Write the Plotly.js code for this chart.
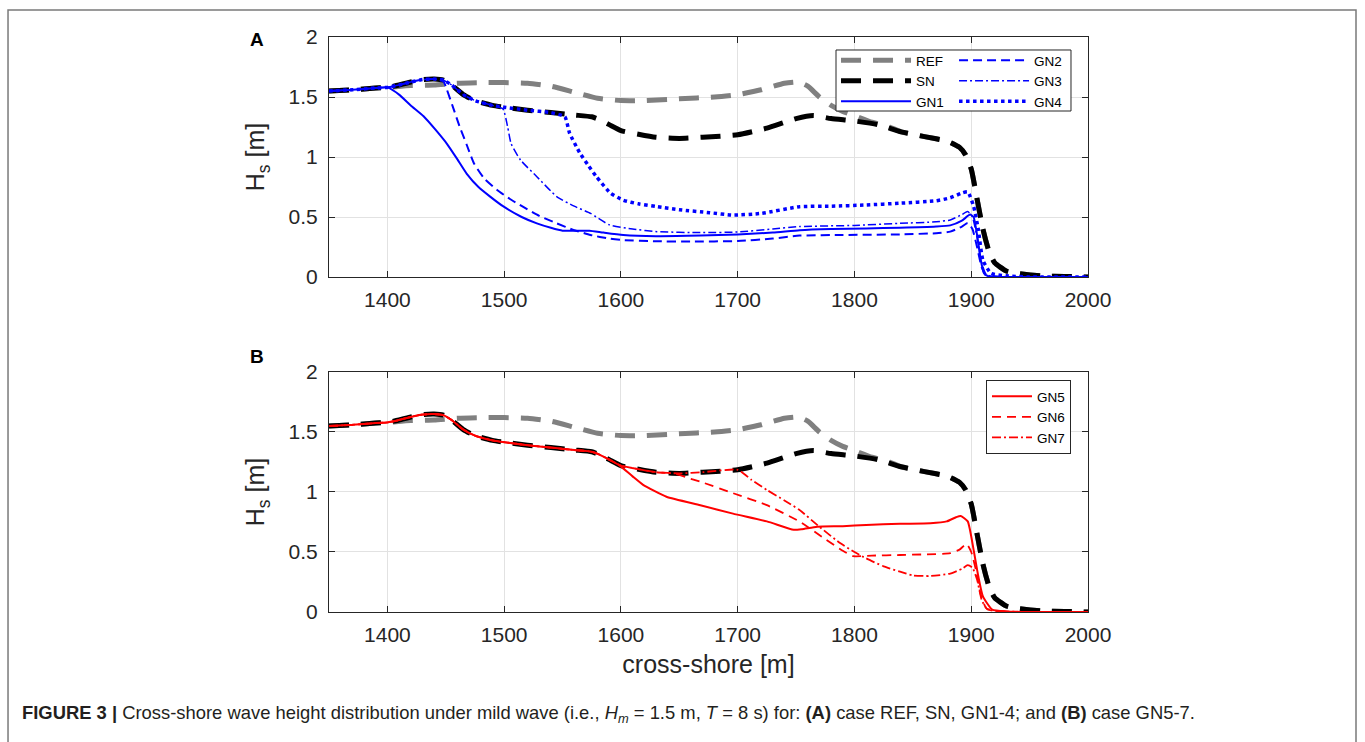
<!DOCTYPE html>
<html>
<head>
<meta charset="utf-8">
<script src="https://cdn.plot.ly/plotly-3.0.1.min.js"></script>
<style>
  html, body { margin: 0; padding: 0; background: #fff; }
  #fig { width: 1365px; height: 742px; }
</style>
</head>
<body>
<div id="fig"></div>
<script>
// Cross-shore positions [m] and significant wave height Hs [m] for each case.
const refX = [1350,1370,1390,1400,1420,1440,1460,1480,1500,1520,1540,1560,1580,1600,1620,1650,1680,1700,1720,1740,1752,1760,1770,1780,1790,1800,1815,1830,1840,1860,1880,1890,1895,1900,1905,1910,1915,1920,1930,1940,1960,1980,2000];
const refY = [1.55,1.56,1.575,1.58,1.595,1.60,1.615,1.62,1.62,1.615,1.59,1.54,1.49,1.47,1.47,1.485,1.50,1.52,1.56,1.615,1.625,1.59,1.50,1.43,1.38,1.345,1.29,1.25,1.21,1.17,1.13,1.08,1.02,0.90,0.65,0.40,0.22,0.12,0.05,0.03,0.01,0.005,0];

const snX = [1350,1370,1390,1400,1410,1420,1430,1440,1448,1455,1465,1475,1490,1500,1520,1540,1560,1575,1582,1590,1600,1615,1630,1650,1670,1700,1725,1750,1765,1780,1800,1820,1840,1860,1880,1890,1895,1900,1905,1910,1915,1920,1930,1940,1960,1980,2000];
const snY = [1.55,1.56,1.575,1.58,1.60,1.625,1.645,1.65,1.64,1.60,1.52,1.47,1.43,1.415,1.39,1.37,1.35,1.335,1.31,1.27,1.22,1.19,1.165,1.155,1.165,1.185,1.24,1.32,1.345,1.32,1.30,1.27,1.21,1.17,1.13,1.08,1.02,0.90,0.65,0.40,0.22,0.12,0.05,0.03,0.01,0.005,0];

const gn1X = [1350,1370,1390,1400,1410,1420,1431,1441,1451,1460,1468,1478,1488,1499,1515,1528,1540,1550,1565,1573,1585,1602,1630,1668,1700,1730,1753,1780,1810,1839,1870,1882,1892,1899,1902,1905,1908,1911,1915,1950,2000];
const gn1Y = [1.55,1.56,1.575,1.58,1.52,1.43,1.34,1.23,1.11,0.98,0.86,0.75,0.67,0.59,0.50,0.447,0.41,0.386,0.385,0.386,0.37,0.35,0.34,0.345,0.355,0.37,0.39,0.40,0.405,0.41,0.42,0.43,0.47,0.52,0.50,0.35,0.15,0.03,0.005,0,0];

const gn2X = [1350,1370,1390,1400,1410,1420,1430,1440,1448,1451,1456,1462,1468,1474,1483,1494,1505,1516,1530,1545,1560,1574,1590,1602,1630,1660,1700,1730,1753,1790,1839,1870,1882,1892,1897,1901,1905,1909,1913,1950,2000];
const gn2Y = [1.55,1.56,1.575,1.58,1.60,1.625,1.645,1.65,1.63,1.56,1.42,1.25,1.10,0.95,0.82,0.725,0.65,0.586,0.51,0.447,0.39,0.35,0.32,0.308,0.298,0.295,0.30,0.32,0.345,0.35,0.355,0.365,0.378,0.42,0.45,0.40,0.25,0.08,0.01,0,0];

const gn3X = [1350,1370,1390,1400,1410,1420,1430,1440,1448,1455,1465,1475,1490,1499,1503,1506,1514,1528,1545,1560,1574,1590,1610,1631,1668,1700,1730,1753,1800,1839,1870,1882,1892,1897,1901,1905,1909,1913,1950,2000];
const gn3Y = [1.55,1.56,1.575,1.58,1.60,1.625,1.645,1.65,1.64,1.60,1.52,1.47,1.43,1.40,1.25,1.11,0.975,0.836,0.67,0.59,0.53,0.435,0.40,0.378,0.37,0.375,0.40,0.42,0.43,0.447,0.46,0.475,0.52,0.545,0.50,0.33,0.12,0.02,0,0];

const gn4X = [1350,1370,1390,1400,1410,1420,1430,1440,1448,1455,1465,1475,1490,1500,1520,1540,1552,1556,1565,1572,1579,1591,1602,1615,1631,1650,1676,1696,1720,1753,1780,1810,1839,1870,1882,1892,1897,1902,1906,1910,1917,1930,1950,2000];
const gn4Y = [1.55,1.56,1.575,1.58,1.60,1.625,1.645,1.65,1.64,1.60,1.52,1.47,1.43,1.415,1.39,1.37,1.335,1.20,1.03,0.93,0.836,0.70,0.64,0.61,0.586,0.56,0.536,0.516,0.53,0.586,0.59,0.60,0.615,0.635,0.66,0.70,0.71,0.59,0.40,0.14,0.03,0.01,0,0];

const gn5X = [1350,1370,1390,1400,1410,1420,1430,1440,1448,1455,1465,1475,1490,1500,1520,1540,1560,1575,1582,1590,1599,1610,1619,1639,1668,1696,1725,1748,1755,1768,1790,1810,1839,1865,1879,1887,1891,1897,1902,1906,1910,1918,1930,1950,2000];
const gn5Y = [1.55,1.56,1.575,1.58,1.60,1.625,1.645,1.65,1.64,1.60,1.52,1.47,1.43,1.415,1.39,1.37,1.35,1.335,1.31,1.27,1.22,1.13,1.06,0.96,0.89,0.82,0.755,0.685,0.69,0.71,0.715,0.725,0.735,0.74,0.755,0.79,0.80,0.755,0.52,0.30,0.13,0.02,0.005,0,0];

const gn6X = [1350,1370,1390,1400,1410,1420,1430,1440,1448,1455,1465,1475,1490,1500,1520,1540,1560,1575,1582,1590,1600,1615,1630,1645,1660,1668,1696,1725,1753,1776,1790,1799,1815,1839,1860,1882,1890,1896,1900,1904,1908,1913,1925,1950,2000];
const gn6Y = [1.55,1.56,1.575,1.58,1.60,1.625,1.645,1.65,1.64,1.60,1.52,1.47,1.43,1.415,1.39,1.37,1.35,1.335,1.31,1.27,1.22,1.19,1.165,1.155,1.11,1.086,0.99,0.89,0.753,0.60,0.51,0.465,0.47,0.475,0.48,0.49,0.52,0.567,0.50,0.35,0.15,0.03,0.005,0,0];

const gn7X = [1350,1370,1390,1400,1410,1420,1430,1440,1448,1455,1465,1475,1490,1500,1520,1540,1560,1575,1582,1590,1600,1615,1630,1650,1670,1700,1712,1725,1740,1753,1770,1788,1800,1810,1825,1839,1850,1865,1882,1892,1897,1901,1905,1909,1914,1930,1950,2000];
const gn7Y = [1.55,1.56,1.575,1.58,1.60,1.625,1.645,1.65,1.64,1.60,1.52,1.47,1.43,1.415,1.39,1.37,1.35,1.335,1.31,1.27,1.22,1.19,1.165,1.155,1.165,1.185,1.10,1.017,0.93,0.85,0.71,0.572,0.50,0.447,0.38,0.336,0.305,0.30,0.32,0.36,0.39,0.37,0.27,0.10,0.02,0.005,0,0];

const xTicks = [1400,1500,1600,1700,1800,1900,2000];
const yTicks = [0,0.5,1,1.5,2];
const yTickText = ['0','0.5','1','1.5','2'];

const BLUE = '#0000ff', RED = '#ff0000', GREY = '#808080', BLACK = '#000000';
const SMOOTH = 0.5;

function line(x, y, name, color, width, dash, xa, ya, legend, show) {
  return {
    type: 'scatter', mode: 'lines', x: x, y: y, name: name,
    xaxis: xa, yaxis: ya, legend: legend, showlegend: show,
    line: { color: color, width: width, dash: dash, shape: 'spline', smoothing: SMOOTH },
    hoverinfo: 'skip'
  };
}

const bigDash = '20px,12px';
const traces = [
  // panel A
  line(refX, refY, 'REF', GREY, 5, bigDash, 'x', 'y', 'legend', true),
  line(snX, snY, 'SN', BLACK, 5, bigDash, 'x', 'y', 'legend', true),
  line(gn1X, gn1Y, 'GN1', BLUE, 2, 'solid', 'x', 'y', 'legend', true),
  line(gn2X, gn2Y, 'GN2', BLUE, 2, '9px,5px', 'x', 'y', 'legend2', true),
  line(gn3X, gn3Y, 'GN3', BLUE, 1.5, '8px,3px,2px,3px', 'x', 'y', 'legend2', true),
  line(gn4X, gn4Y, 'GN4', BLUE, 3.5, '3.5px,3.5px', 'x', 'y', 'legend2', true),
  // panel B
  line(refX, refY, 'REF', GREY, 5, bigDash, 'x2', 'y2', 'legend3', false),
  line(snX, snY, 'SN', BLACK, 5, bigDash, 'x2', 'y2', 'legend3', false),
  line(gn5X, gn5Y, 'GN5', RED, 2, 'solid', 'x2', 'y2', 'legend3', true),
  line(gn6X, gn6Y, 'GN6', RED, 1.8, '9px,6px', 'x2', 'y2', 'legend3', true),
  line(gn7X, gn7Y, 'GN7', RED, 1.8, '9px,3px,2px,3px', 'x2', 'y2', 'legend3', true)
];

const AX = '#262626';
function xAxis(anchor, title) {
  const a = {
    anchor: anchor, domain: [0, 1], range: [1350, 2000],
    tickmode: 'array', tickvals: xTicks, ticktext: xTicks.map(String),
    showline: true, linecolor: AX, linewidth: 1, mirror: 'allticks',
    ticks: 'inside', ticklen: 6, tickcolor: AX, tickwidth: 1,
    showgrid: true, gridcolor: '#e2e2e2', gridwidth: 1, zeroline: false,
    tickfont: { size: 21, color: AX }, ticklabelstandoff: 4
  };
  if (title) a.title = { text: title, font: { size: 25, color: AX }, standoff: 10 };
  return a;
}
function yAxis(anchor, domain) {
  return {
    anchor: anchor, domain: domain, range: [0, 2],
    tickmode: 'array', tickvals: yTicks, ticktext: yTickText,
    showline: true, linecolor: AX, linewidth: 1, mirror: 'allticks',
    ticks: 'inside', ticklen: 6, tickcolor: AX, tickwidth: 1,
    showgrid: true, gridcolor: '#e2e2e2', gridwidth: 1, zeroline: false,
    tickfont: { size: 21, color: AX }, ticklabelstandoff: 6,
    title: { text: 'H<sub>s</sub> [m]', font: { size: 25, color: AX }, standoff: 16 }
  };
}

const legendBase = {
  xref: 'paper', yref: 'paper', xanchor: 'left', yanchor: 'top',
  orientation: 'v', font: { size: 13.5, color: '#000' },
  bgcolor: 'rgba(0,0,0,0)', borderwidth: 0, tracegroupgap: 0
};

const layout = {
  width: 1365, height: 742,
  margin: { l: 329, r: 277, t: 37, b: 130, pad: 0 },
  paper_bgcolor: '#ffffff', plot_bgcolor: '#ffffff',
  font: { family: 'Arial, "Liberation Sans", Helvetica, sans-serif', color: AX },
  xaxis: xAxis('y', null),
  yaxis: yAxis('x', [0.5826, 1]),
  xaxis2: xAxis('y2', 'cross-shore [m]'),
  yaxis2: yAxis('x2', [0, 0.4174]),
  legend: Object.assign({}, legendBase, { x: 0.668, y: 0.9861, itemwidth: 70 }),
  legend2: Object.assign({}, legendBase, { x: 0.8235, y: 0.9861, itemwidth: 70 }),
  legend3: Object.assign({}, legendBase, {
    x: 0.8656, y: 0.4035, itemwidth: 40,
    bgcolor: '#ffffff', bordercolor: AX, borderwidth: 1
  }),
  shapes: [
    // frame around the whole figure
    { type: 'rect', xref: 'paper', yref: 'paper', x0: -0.4229, x1: 1.3531, y0: -0.26, y1: 1.047,
      line: { color: '#7a7a7a', width: 1.5 }, fillcolor: 'rgba(0,0,0,0)', layer: 'below' },
    // box behind the two-column legend of panel A
    { type: 'rect', xref: 'paper', yref: 'paper', x0: 0.668, x1: 0.9776, y0: 0.8713, y1: 0.9774,
      line: { color: AX, width: 1 }, fillcolor: '#ffffff', layer: 'above' }
  ],
  annotations: [
    { text: '<b>A</b>', xref: 'paper', yref: 'paper', x: -0.0949, y: 0.9948,
      showarrow: false, font: { size: 19, color: '#000' }, xanchor: 'center', yanchor: 'middle' },
    { text: '<b>B</b>', xref: 'paper', yref: 'paper', x: -0.0949, y: 0.4435,
      showarrow: false, font: { size: 19, color: '#000' }, xanchor: 'center', yanchor: 'middle' },
    { text: '<b>FIGURE 3 |</b> Cross-shore wave height distribution under mild wave (i.e., <i>H<sub>m</sub></i> = 1.5 m, <i>T</i> = 8 s) for: <b>(A)</b> case REF, SN, GN1-4; and <b>(B)</b> case GN5-7.',
      xref: 'paper', yref: 'paper', x: -0.4071, y: -0.1774, xanchor: 'left', yanchor: 'middle',
      showarrow: false, align: 'left', font: { size: 18.4, color: '#231f20' } }
  ]
};

Plotly.newPlot('fig', traces, layout, { staticPlot: true, displayModeBar: false });
</script>
</body>
</html>
